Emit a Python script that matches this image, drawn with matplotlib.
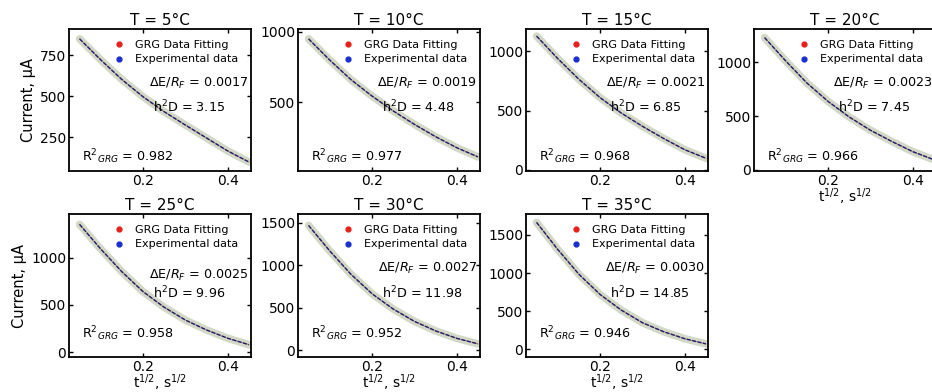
import numpy as np
import matplotlib
matplotlib.use('Agg')
import matplotlib.pyplot as plt

# sqrt(t) grid
t = [0.05, 0.10, 0.15, 0.20, 0.25, 0.30, 0.35, 0.40, 0.45]

temps = [5, 10, 15, 20, 25, 30, 35]
cur_5 = [850, 722, 602, 497, 406, 325, 246, 167, 100]
cur_10 = [950, 800, 662, 545, 440, 345, 258, 180, 115]
cur_15 = [1130, 940, 765, 610, 480, 368, 265, 170, 98]
cur_20 = [1230, 1013, 808, 637, 492, 369, 266, 170, 95]
cur_25 = [1350, 1090, 850, 640, 475, 340, 235, 148, 80]
cur_30 = [1470, 1170, 895, 665, 485, 340, 228, 140, 75]
cur_35 = [1665, 1310, 985, 720, 515, 350, 232, 140, 72]
currents = [cur_5, cur_10, cur_15, cur_20, cur_25, cur_30, cur_35]

dE_RF = ['0.0017', '0.0019', '0.0021', '0.0023', '0.0025', '0.0027', '0.0030']
h2D = ['3.15', '4.48', '6.85', '7.45', '9.96', '11.98', '14.85']
r2 = ['0.982', '0.977', '0.968', '0.966', '0.958', '0.952', '0.946']

ylims = [(45, 910), (15, 1020), (-10, 1190), (-10, 1310), (-50, 1460), (-80, 1605), (-100, 1775)]
yticks = [[250, 500, 750], [500, 1000], [0, 500, 1000], [0, 500, 1000],
          [0, 500, 1000], [0, 500, 1000, 1500], [0, 500, 1000, 1500]]

fig = plt.figure(figsize=(9.32, 3.92), dpi=100)

lefts = [69, 298, 526, 754]
W, H = 932.0, 392.0

for i in range(7):
    row, col = divmod(i, 4)
    left = lefts[col] / W
    if row == 0:
        bottom, height = 1 - 171 / H, 142 / H
    else:
        bottom, height = 1 - 357 / H, 143 / H
    ax = fig.add_axes([left, bottom, 182 / W, height])

    y = currents[i]
    # light band of the fit, red fit trace, dark dotted experimental trace
    ax.plot(t, y, color='#d2d9c6', linewidth=5.5, solid_capstyle='round',
            solid_joinstyle='round', zorder=1)
    ax.plot(t, y, color='#c0392b', linewidth=0.7, alpha=0.5, zorder=2)
    ax.plot(t, y, color='#1c1c70', linewidth=1.0, linestyle=(0, (3, 1)),
            dash_joinstyle='round', zorder=3)

    ax.plot([], [], 'o', color='#e8201a', ms=3.5, label='GRG Data Fitting')
    ax.plot([], [], 'o', color='#1a2fd0', ms=3.5, label='Experimental data')
    ax.legend(loc='upper left', bbox_to_anchor=(0.19, 0.985), frameon=False, fontsize=8,
              handlelength=1.2, handletextpad=0.8, labelspacing=0.4, borderpad=0.3)

    ax.set_xlim(0.025, 0.455)
    ax.set_ylim(*ylims[i])
    ax.set_xticks([0.2, 0.4])
    ax.set_yticks(yticks[i])
    ax.tick_params(direction='in', top=True, right=True, length=3, width=1, labelsize=10, pad=2)
    for s in ax.spines.values():
        s.set_linewidth(1.3)

    ax.set_title('T = %d°C' % temps[i], fontsize=11, pad=3)

    de_y = 0.57 if i == 4 else 0.62
    ax.text(0.985, de_y, r'$\Delta$E/$R_F$ = ' + dE_RF[i], transform=ax.transAxes,
            ha='right', va='center', fontsize=9.2)
    ax.text(0.46, 0.45, r'h$^2$D = ' + h2D[i], transform=ax.transAxes,
            ha='left', va='center', fontsize=9.2)
    ax.text(0.07, 0.10 if row == 0 else 0.16, r'R$^2$$_{GRG}$ = ' + r2[i],
            transform=ax.transAxes, ha='left', va='center', fontsize=9.2)

    if col == 0:
        ax.set_ylabel('Current, µA', fontsize=10.5, labelpad=3)
    if row == 1 or col == 3:
        ax.set_xlabel(r't$^{1/2}$, s$^{1/2}$', fontsize=10, labelpad=-1)

fig.savefig('out.png', dpi=100)
